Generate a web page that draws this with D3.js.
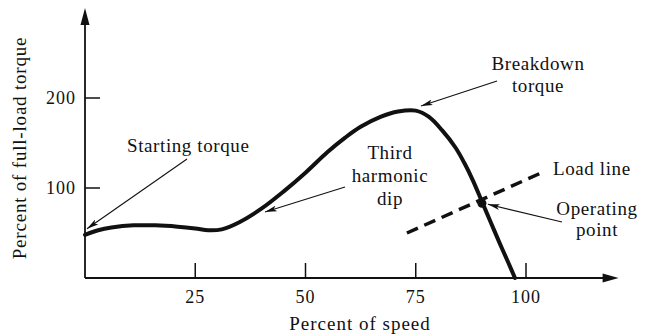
<!DOCTYPE html>
<html>
<head>
<meta charset="utf-8">
<script src="https://cdn.jsdelivr.net/npm/d3@7"></script>
<style>
  html, body { margin: 0; padding: 0; background: #fff; }
  svg { display: block; }
  text { font-family: "Liberation Serif", "Times New Roman", serif; fill: #111; }
</style>
</head>
<body>
<svg id="chart" width="647" height="335"></svg>
<script>
// Induction motor torque vs. speed curve
const speed  = [0, 3, 6, 11, 16, 21, 25, 28, 31, 35, 40, 45, 50, 55, 59, 62.5, 67, 71, 75, 78, 81, 84, 86, 88, 90, 92, 94, 96, 97.5];
const torque = [48, 53, 56, 58.5, 58.5, 57, 55, 53, 54, 62, 77, 96, 117, 140, 156, 168, 179, 185, 186, 179, 164, 145, 128, 108, 85, 62, 39, 17, 0];

// Load line end points and the operating point where it meets the curve
const loadSpeed  = [73, 104];
const loadTorque = [50, 118];
const operating  = [90, 83];

const xTicks = [25, 50, 75, 100];
const yTicks = [100, 200];

const svg = d3.select("#chart");
const x = d3.scaleLinear().domain([0, 100]).range([85, 526]);
const y = d3.scaleLinear().domain([0, 200]).range([278, 98]);
const xMax = 121, yMax = 300;

const ink = "#111";

// Arrowheads
const defs = svg.append("defs");
defs.append("marker").attr("id", "thin")
  .attr("viewBox", "0 0 12 6").attr("refX", 12).attr("refY", 3)
  .attr("markerWidth", 12).attr("markerHeight", 6).attr("markerUnits", "userSpaceOnUse")
  .attr("orient", "auto")
  .append("path").attr("d", "M0,0 L12,3 L0,6 L3,3 Z").attr("fill", ink);

// Axes
const axes = svg.append("g");
axes.append("line").attr("x1", x(0)).attr("y1", y(0)).attr("x2", x(0)).attr("y2", y(yMax) + 14)
  .attr("stroke", ink).attr("stroke-width", 1.8);
axes.append("path")
  .attr("d", `M${x(0)},${y(yMax)} L${x(0) - 4.5},${y(yMax) + 17} L${x(0) + 4.5},${y(yMax) + 17} Z`)
  .attr("fill", ink);
axes.append("line").attr("x1", x(0)).attr("y1", y(0)).attr("x2", x(xMax) - 12).attr("y2", y(0))
  .attr("stroke", ink).attr("stroke-width", 1.8);
axes.append("path")
  .attr("d", `M${x(xMax)},${y(0)} L${x(xMax) - 16},${y(0) - 4.5} L${x(xMax) - 16},${y(0) + 4.5} Z`)
  .attr("fill", ink);

// Inward ticks
axes.selectAll(".xt").data(xTicks).join("line")
  .attr("x1", d => x(d)).attr("x2", d => x(d))
  .attr("y1", y(0)).attr("y2", y(0) - 15)
  .attr("stroke", ink).attr("stroke-width", 1.5);
axes.selectAll(".yt").data(yTicks).join("line")
  .attr("x1", x(0)).attr("x2", x(0) + 15)
  .attr("y1", d => y(d)).attr("y2", d => y(d))
  .attr("stroke", ink).attr("stroke-width", 1.5);

axes.selectAll(".xl").data(xTicks).join("text")
  .attr("x", d => x(d)).attr("y", y(0) + 25)
  .attr("text-anchor", "middle").attr("font-size", 18).attr("letter-spacing", 1)
  .text(d => d);
axes.selectAll(".yl").data(yTicks).join("text")
  .attr("x", x(0) - 9).attr("y", d => y(d) + 6)
  .attr("text-anchor", "end").attr("font-size", 18).attr("letter-spacing", 1)
  .text(d => d);

svg.append("text").attr("x", 360).attr("y", 330)
  .attr("text-anchor", "middle").attr("font-size", 19).attr("letter-spacing", 1)
  .text("Percent of speed");
svg.append("text").attr("transform", "translate(26,148) rotate(-90)")
  .attr("text-anchor", "middle").attr("font-size", 19).attr("letter-spacing", 0.8)
  .text("Percent of full-load torque");

// Torque curve
const pts = speed.map((s, i) => [s, torque[i]]);
svg.append("path").datum(pts)
  .attr("d", d3.line().x(d => x(d[0])).y(d => y(d[1])).curve(d3.curveCatmullRom.alpha(0.5)))
  .attr("fill", "none").attr("stroke", ink).attr("stroke-width", 4)
  .attr("stroke-linejoin", "round").attr("stroke-linecap", "round");

// Load line
svg.append("line")
  .attr("x1", x(loadSpeed[0])).attr("y1", y(loadTorque[0]))
  .attr("x2", x(loadSpeed[1])).attr("y2", y(loadTorque[1]))
  .attr("stroke", ink).attr("stroke-width", 3.5).attr("stroke-dasharray", "12,7");
svg.append("circle").attr("cx", x(operating[0])).attr("cy", y(operating[1])).attr("r", 4.5).attr("fill", ink);

// Annotations
function arrow(x1, y1, x2, y2) {
  svg.append("line").attr("x1", x1).attr("y1", y1).attr("x2", x2).attr("y2", y2)
    .attr("stroke", ink).attr("stroke-width", 1.1).attr("marker-end", "url(#thin)");
}
function label(lines, cx, y0, anchor, lh) {
  const t = svg.append("text").attr("font-size", 19).attr("text-anchor", anchor).attr("letter-spacing", 0.6);
  lines.forEach((s, i) => t.append("tspan").attr("x", cx).attr("y", y0 + i * lh).text(s));
}

label(["Starting torque"], 127, 152, "start", 22);
arrow(187, 159, x(0) + 2, y(torque[0]) - 6);

label(["Third", "harmonic", "dip"], 390, 159, "middle", 23);
arrow(345, 187, 265, 212);

label(["Breakdown", "torque"], 538, 70, "middle", 22);
arrow(497, 81, 421, 106);

label(["Load line"], 553, 175, "start", 22);

label(["Operating", "point"], 597, 215, "middle", 21);
arrow(562, 222, x(operating[0]) + 6, y(operating[1]) + 1);
</script>
</body>
</html>
